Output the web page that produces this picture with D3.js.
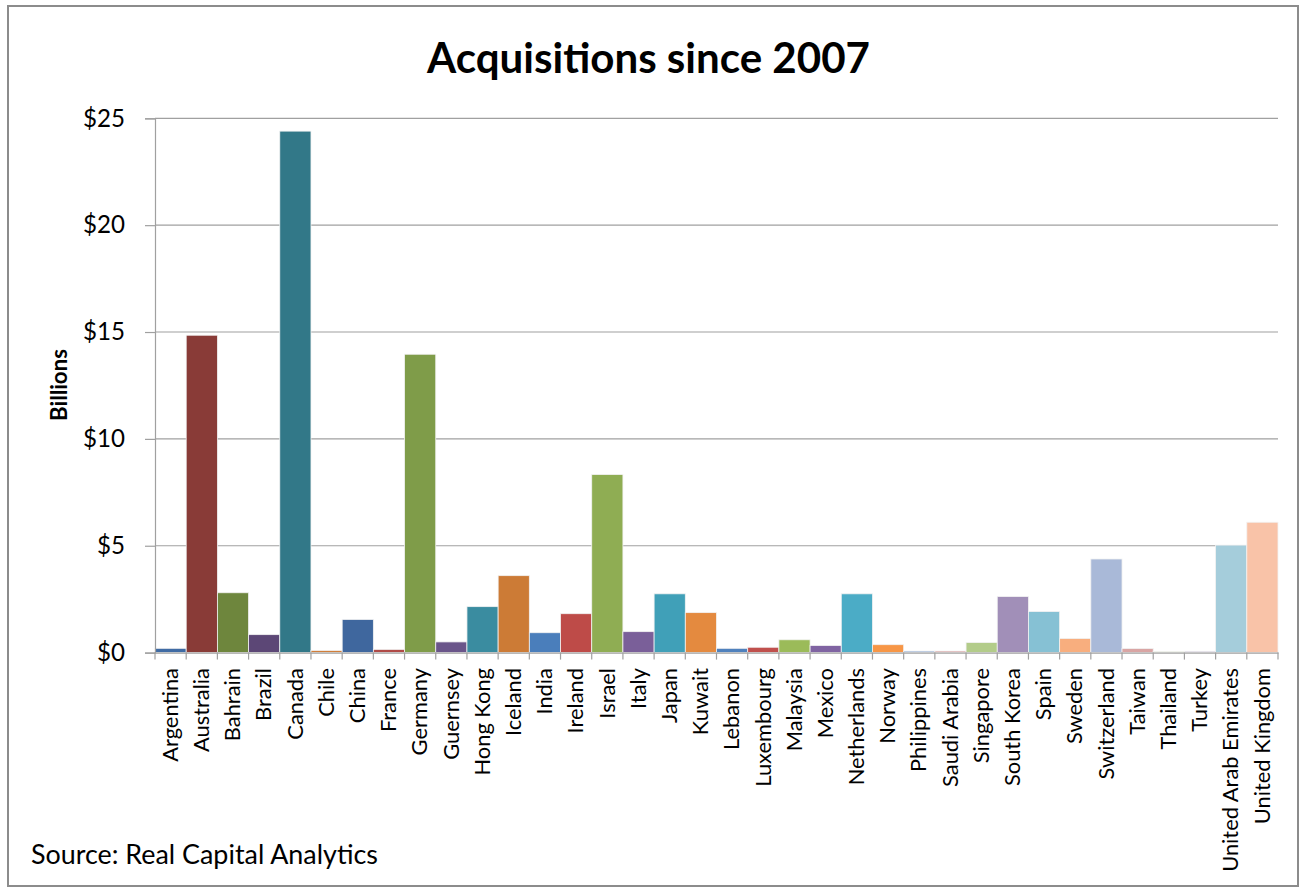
<!DOCTYPE html>
<html>
<head>
<meta charset="utf-8">
<script src="https://cdn.jsdelivr.net/npm/d3@7"></script>
<style>
  html, body { margin: 0; padding: 0; background: #fff; }
  svg { display: block; }
  text { font-family: Lato, "Open Sans", sans-serif; fill: #000; }
</style>
</head>
<body>
<svg id="chart" width="1306" height="890"></svg>
<script>
const countries = ["Argentina","Australia","Bahrain","Brazil","Canada","Chile","China","France","Germany","Guernsey","Hong Kong","Iceland","India","Ireland","Israel","Italy","Japan","Kuwait","Lebanon","Luxembourg","Malaysia","Mexico","Netherlands","Norway","Philippines","Saudi Arabia","Singapore","South Korea","Spain","Sweden","Switzerland","Taiwan","Thailand","Turkey","United Arab Emirates","United Kingdom"];
const values = [0.2,14.85,2.8,0.84,24.4,0.1,1.55,0.15,13.96,0.5,2.15,3.6,0.93,1.82,8.33,0.98,2.75,1.87,0.2,0.25,0.6,0.33,2.75,0.37,0.07,0.07,0.47,2.62,1.92,0.66,4.38,0.19,0.05,0.06,5.03,6.1];
const barColors = ["#3f6ba4","#893b37","#6e863d","#5c4776","#327888","#d17e3a","#3f679e","#b04a47","#7f9c49","#6a558a","#3a8ca0","#cc7b36","#4a7ebb","#be4b48","#8fad53","#7a5f99","#40a0b8","#e48a3f","#4f81bd","#c0504d","#9bbb59","#8064a2","#4bacc6","#f79646","#7f9fcf","#d08a88","#b3cc8a","#a18fb8","#86c1d4","#f8ae7e","#a9b9d8","#d9a5a4","#c4d79b","#b2a2c7","#a5cddb","#f9c3a8"];
const yTicks = [0,5,10,15,20,25];
const titleText = "Acquisitions since 2007";
const yAxisTitle = "Billions";
const sourceText = "Source: Real Capital Analytics";

(function () {
const svg = d3.select("#chart");
const pLeft = 155, pRight = 1278, pTop = 118.3, pBottom = 652.6;

// frame
svg.append("rect").attr("x", 8).attr("y", 6).attr("width", 1290).attr("height", 880)
  .attr("fill", "#fff").attr("stroke", "#8c8c8c").attr("stroke-width", 2);

const x = d3.scaleBand().domain(countries).range([pLeft, pRight]).padding(0);
const y = d3.scaleLinear().domain([0, 25]).range([pBottom, pTop]);

function fit(sel, target) {
  const fs = parseFloat(sel.attr("font-size"));
  const w = sel.node().getComputedTextLength();
  sel.attr("font-size", (fs * target / w).toFixed(2));
}

// gridlines
svg.append("g").selectAll("line").data(yTicks.filter(d => d > 0)).join("line")
  .attr("x1", pLeft).attr("x2", pRight)
  .attr("y1", d => y(d)).attr("y2", d => y(d))
  .attr("stroke", "#a0a0a0").attr("stroke-width", 1.2);

// bars
svg.append("g").selectAll("rect").data(countries).join("rect")
  .attr("x", d => x(d))
  .attr("y", (d, i) => y(values[i]))
  .attr("width", x.bandwidth())
  .attr("height", (d, i) => y(0) - y(values[i]))
  .attr("fill", (d, i) => barColors[i])
  .attr("stroke", "#f2f2f2").attr("stroke-width", 0.8);

// y axis
const yAxis = svg.append("g").attr("transform", `translate(${pLeft},0)`)
  .call(d3.axisLeft(y).tickValues(yTicks).tickSize(10).tickPadding(20).tickFormat(d => "$" + d));
yAxis.select(".domain").attr("stroke", "#a0a0a0").attr("stroke-width", 1.2);
yAxis.selectAll(".tick line").attr("stroke", "#a0a0a0").attr("stroke-width", 1.2);
yAxis.selectAll(".tick text").attr("font-family", "Lato, sans-serif").attr("font-size", 25).attr("fill", "#000");

// x axis
const xAxis = svg.append("g").attr("transform", `translate(0,${pBottom})`)
  .call(d3.axisBottom(x).tickSize(0).tickFormat(""));
xAxis.select(".domain").attr("stroke", "#a0a0a0").attr("stroke-width", 1.2);
const bounds = countries.map(d => x(d)).concat([pRight]);
svg.append("g").selectAll("line").data(bounds).join("line")
  .attr("x1", d => d).attr("x2", d => d)
  .attr("y1", pBottom).attr("y2", pBottom + 7)
  .attr("stroke", "#a0a0a0").attr("stroke-width", 1.2);

// category labels
const labels = svg.append("g").selectAll("text").data(countries).join("text")
  .attr("transform", d => `translate(${x(d) + x.bandwidth() / 2},668) rotate(-90)`)
  .attr("text-anchor", "end").attr("dy", "0.33em")
  .attr("font-size", 22)
  .text(d => d);
const longest = labels.filter(d => d === "United Arab Emirates");
const lw = longest.node().getComputedTextLength();
labels.attr("font-size", (22 * 204 / lw).toFixed(2));

// y tick label sizing
const t25 = yAxis.selectAll(".tick text").filter(d => d === 25);
const tw = t25.node().getComputedTextLength();
yAxis.selectAll(".tick text").attr("font-size", (25 * 42 / tw).toFixed(2));

// title
const title = svg.append("text").attr("x", 648.5).attr("y", 73.3)
  .attr("text-anchor", "middle").attr("font-weight", "bold").attr("font-size", 40)
  .text(titleText);
fit(title, 443);

// y axis title
const yt = svg.append("text").attr("transform", "translate(67,385) rotate(-90)")
  .attr("text-anchor", "middle").attr("font-weight", "bold").attr("font-size", 22)
  .text(yAxisTitle);
fit(yt, 72);

// source
const src = svg.append("text").attr("x", 31).attr("y", 864)
  .attr("font-size", 24).text(sourceText);
fit(src, 347);
})();
</script>
</body>
</html>
